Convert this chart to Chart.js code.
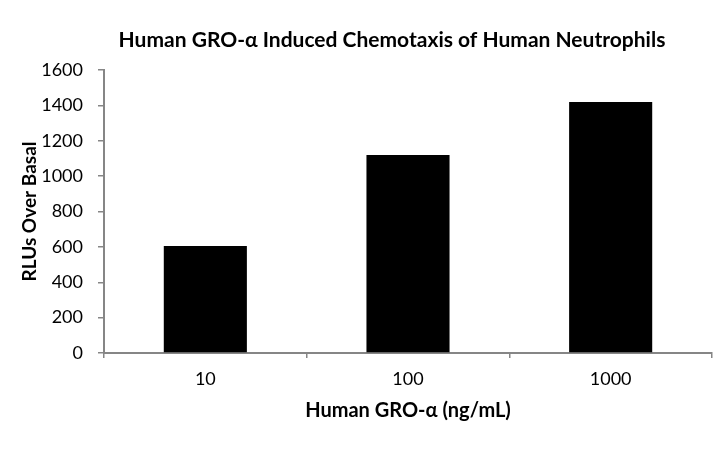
<!DOCTYPE html>
<html>
<head>
<meta charset="utf-8">
<script src="https://cdn.jsdelivr.net/npm/chart.js@4/dist/chart.umd.min.js"></script>
<style>
html,body{margin:0;padding:0;background:#fff;}
#wrap{width:720px;height:450px;position:relative;}
</style>
</head>
<body>
<div id="wrap"><canvas id="c"></canvas></div>
<script>
const categories = ["10", "100", "1000"];
const rluValues = [605, 1119, 1419];
const yTicks = [0, 200, 400, 600, 800, 1000, 1200, 1400, 1600];
const chartTitle = "Human GRO-\u03b1 Induced Chemotaxis of Human Neutrophils";
const xTitle = "Human GRO-\u03b1 (ng/mL)";
const yTitle = "RLUs Over Basal";

const AXIS = "#868686";
const titlePlugin = {
  id: "customTitle",
  afterDraw(chart) {
    const ctx = chart.ctx;
    ctx.save();
    ctx.font = "bold 21px Lato";
    ctx.fillStyle = "#000";
    ctx.textAlign = "center";
    ctx.textBaseline = "middle";
    ctx.fillText(chartTitle, 392, 40);
    ctx.restore();
  }
};

new Chart(document.getElementById("c"), {
  type: "bar",
  data: {
    labels: categories,
    datasets: [{
      data: rluValues,
      backgroundColor: "#000",
      borderWidth: 0,
      barPercentage: 0.41,
      categoryPercentage: 1.0
    }]
  },
  plugins: [titlePlugin],
  options: {
    responsive: true,
    maintainAspectRatio: false,
    animation: false,
    layout: { padding: { left: 0, right: 8, top: 70, bottom: 0 } },
    plugins: { legend: { display: false }, tooltip: { enabled: false }, title: { display: false } },
    scales: {
      x: {
        afterFit(scale) { scale.height = 97; },
        grid: { display: true, drawOnChartArea: false, drawTicks: true, tickLength: 5, color: AXIS, lineWidth: 1.5, offset: true },
        border: { display: true, color: AXIS, width: 2 },
        ticks: { color: "#000", font: { family: "Lato", size: 18 }, padding: 10, maxRotation: 0 },
        title: { display: true, text: xTitle, color: "#000", font: { family: "Lato", size: 20, weight: "bold" }, padding: { top: 0, bottom: 27 } }
      },
      y: {
        min: 0, max: 1600,
        afterFit(scale) { scale.width = 104; },
        afterBuildTicks(scale) { scale.ticks = yTicks.map(v => ({ value: v })); },
        grid: { display: true, drawOnChartArea: false, drawTicks: true, tickLength: 6, color: AXIS, lineWidth: 1.5 },
        border: { display: true, color: AXIS, width: 2 },
        ticks: { color: "#000", font: { family: "Lato", size: 18 }, padding: 15, callback: (v) => String(v) },
        title: { display: true, text: yTitle, color: "#000", font: { family: "Lato", size: 19, weight: "bold" }, padding: { top: 18, bottom: 0 } }
      }
    }
  }
});
</script>
</body>
</html>
